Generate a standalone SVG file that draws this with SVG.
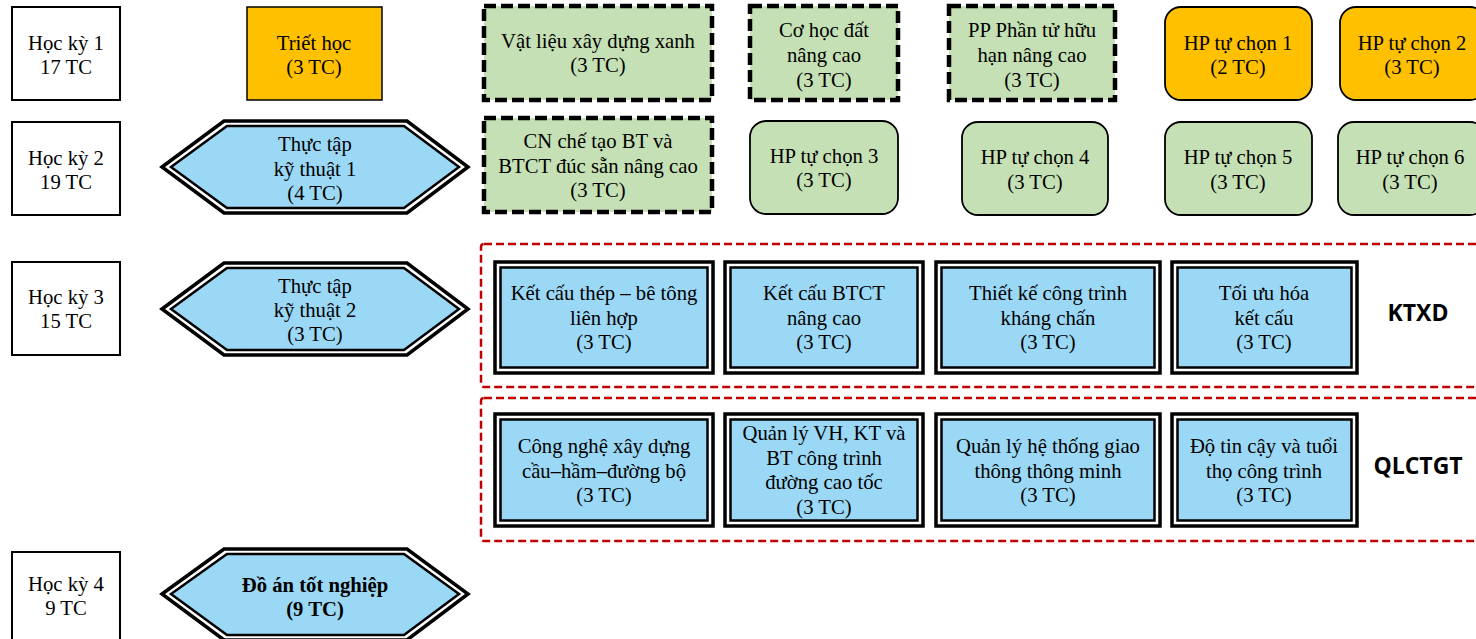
<svg xmlns="http://www.w3.org/2000/svg" width="1476" height="639" viewBox="0 0 1476 639">
<style>
text{font-family:"Liberation Serif","Times New Roman",serif;font-size:20.7px;fill:#000;text-anchor:middle}
.b{font-weight:bold}
.lbl{font-family:"Open Sans","Liberation Sans",sans-serif;font-weight:bold;font-size:23px}
.hk{fill:#fff;stroke:#000;stroke-width:2}
.or{fill:#FFC000;stroke:#000;stroke-width:1.5}
.dg{fill:#C5E0B4;stroke:#000;stroke-width:4.5;stroke-dasharray:12 5}
.rg{fill:#C5E0B4;stroke:#000;stroke-width:1.8}
.ro{fill:#FFC000;stroke:#000;stroke-width:1.8}
.out{fill:#fff;stroke:#000;stroke-width:3.5}
.inn{fill:#9BD8F6;stroke:#000;stroke-width:2.5}
.grp{fill:none;stroke:#C00000;stroke-width:2.5;stroke-dasharray:8 4}
</style>
<rect width="1476" height="639" fill="#fff"/>
<g id="groups">
<rect id="grp-ktxd" class="grp" x="481" y="244" width="1010" height="143" rx="3"/>
<rect id="grp-qlctgt" class="grp" x="481" y="398" width="1010" height="143" rx="3"/>
</g>
<g id="connectors"/>
<g id="hk1"><rect class="hk" x="12" y="7" width="108" height="93"/><text x="66" y="50">Học kỳ 1</text><text x="66" y="74">17 TC</text></g>
<g id="hk2"><rect class="hk" x="12" y="122" width="108" height="93"/><text x="66" y="165">Học kỳ 2</text><text x="66" y="189">19 TC</text></g>
<g id="hk3"><rect class="hk" x="12" y="262" width="108" height="93"/><text x="66" y="304">Học kỳ 3</text><text x="66" y="328">15 TC</text></g>
<g id="hk4"><rect class="hk" x="12" y="552" width="108" height="93"/><text x="66" y="591">Học kỳ 4</text><text x="66" y="615">9 TC</text></g>
<g id="triet-hoc"><rect class="or" x="247" y="7" width="135" height="93"/><text x="314" y="50">Triết học</text><text x="314" y="74">(3 TC)</text></g>
<g id="tt1"><polygon class="out" points="162,167 224,121 407,121 468,167 407,213 224,213"/><polygon class="inn" points="171,167 227,126 404,126 459,167 404,208 227,208"/><text x="315" y="151">Thực tập</text><text x="315" y="176">kỹ thuật 1</text><text x="315" y="200">(4 TC)</text></g>
<g id="tt2"><polygon class="out" points="162,309 224,263 407,263 468,309 407,355 224,355"/><polygon class="inn" points="171,309 227,268 404,268 459,309 404,350 227,350"/><text x="315" y="293">Thực tập</text><text x="315" y="317">kỹ thuật 2</text><text x="315" y="341">(3 TC)</text></g>
<g id="da"><polygon class="out" points="162,594 224,549 407,549 468,594 407,640 224,640"/><polygon class="inn" points="171,594 227,554 404,554 459,594 404,635 227,635"/><text class="b" x="315" y="592">Đồ án tốt nghiệp</text><text class="b" x="315" y="616">(9 TC)</text></g>
<g id="vlxd"><rect class="dg" x="484" y="6" width="228" height="94"/><text x="598" y="48">Vật liệu xây dựng xanh</text><text x="598" y="72">(3 TC)</text></g>
<g id="chbt"><rect class="dg" x="484" y="118" width="228" height="94"/><text x="598" y="148">CN chế tạo BT và</text><text x="598" y="173">BTCT đúc sẵn nâng cao</text><text x="598" y="197">(3 TC)</text></g>
<g id="chd"><rect class="dg" x="750" y="6" width="148" height="94"/><text x="824" y="37">Cơ học đất</text><text x="824" y="62">nâng cao</text><text x="824" y="87">(3 TC)</text></g>
<g id="pptu"><rect class="dg" x="949" y="6" width="166" height="94"/><text x="1032" y="37">PP Phần tử hữu</text><text x="1032" y="62">hạn nâng cao</text><text x="1032" y="87">(3 TC)</text></g>
<g id="hp1"><rect class="ro" x="1165" y="7" width="147" height="93" rx="16"/><text x="1238" y="50">HP tự chọn 1</text><text x="1238" y="74">(2 TC)</text></g>
<g id="hp2"><rect class="ro" x="1340" y="7" width="146" height="93" rx="16"/><text x="1412" y="50">HP tự chọn 2</text><text x="1412" y="74">(3 TC)</text></g>
<g id="hp3"><rect class="rg" x="750" y="121" width="148" height="93" rx="16"/><text x="824" y="163">HP tự chọn 3</text><text x="824" y="187">(3 TC)</text></g>
<g id="hp4"><rect class="rg" x="962" y="122" width="146" height="93" rx="16"/><text x="1035" y="164">HP tự chọn 4</text><text x="1035" y="189">(3 TC)</text></g>
<g id="hp5"><rect class="rg" x="1165" y="122" width="147" height="93" rx="16"/><text x="1238" y="164">HP tự chọn 5</text><text x="1238" y="189">(3 TC)</text></g>
<g id="hp6"><rect class="rg" x="1338" y="122" width="148" height="93" rx="16"/><text x="1410" y="164">HP tự chọn 6</text><text x="1410" y="189">(3 TC)</text></g>
<g id="kct"><rect class="out" x="495" y="262" width="218" height="111"/><rect class="inn" x="500.5" y="267.5" width="207" height="100"/><text x="604" y="300">Kết cấu thép – bê tông</text><text x="604" y="325">liên hợp</text><text x="604" y="349">(3 TC)</text></g>
<g id="kcbtct"><rect class="out" x="725" y="262" width="198" height="111"/><rect class="inn" x="730.5" y="267.5" width="187" height="100"/><text x="824" y="300">Kết cấu BTCT</text><text x="824" y="325">nâng cao</text><text x="824" y="349">(3 TC)</text></g>
<g id="tkct"><rect class="out" x="936" y="262" width="224" height="111"/><rect class="inn" x="941.5" y="267.5" width="213" height="100"/><text x="1048" y="300">Thiết kế công trình</text><text x="1048" y="325">kháng chấn</text><text x="1048" y="349">(3 TC)</text></g>
<g id="tuhkc"><rect class="out" x="1172" y="262" width="185" height="111"/><rect class="inn" x="1177.5" y="267.5" width="174" height="100"/><text x="1264" y="300">Tối ưu hóa</text><text x="1264" y="325">kết cấu</text><text x="1264" y="349">(3 TC)</text></g>
<text class="lbl" x="1418" y="321">KTXD</text>
<g id="cnxd"><rect class="out" x="495" y="414" width="218" height="112"/><rect class="inn" x="500.5" y="419.5" width="207" height="101"/><text x="604" y="453">Công nghệ xây dựng</text><text x="604" y="478">cầu–hầm–đường bộ</text><text x="604" y="502">(3 TC)</text></g>
<g id="qlvh"><rect class="out" x="725" y="414" width="198" height="112"/><rect class="inn" x="730.5" y="419.5" width="187" height="101"/><text x="824" y="440">Quản lý VH, KT và</text><text x="824" y="465">BT công trình</text><text x="824" y="489">đường cao tốc</text><text x="824" y="514">(3 TC)</text></g>
<g id="qlht"><rect class="out" x="936" y="414" width="224" height="112"/><rect class="inn" x="941.5" y="419.5" width="213" height="101"/><text x="1048" y="453">Quản lý hệ thống giao</text><text x="1048" y="478">thông thông minh</text><text x="1048" y="502">(3 TC)</text></g>
<g id="dtc"><rect class="out" x="1172" y="414" width="185" height="112"/><rect class="inn" x="1177.5" y="419.5" width="174" height="101"/><text x="1264" y="453">Độ tin cậy và tuổi</text><text x="1264" y="478">thọ công trình</text><text x="1264" y="502">(3 TC)</text></g>
<text class="lbl" x="1418" y="474">QLCTGT</text>
</svg>
